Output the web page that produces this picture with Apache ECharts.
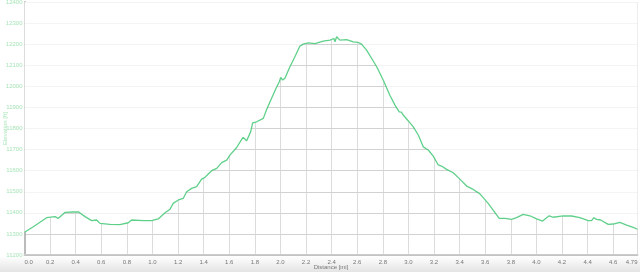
<!DOCTYPE html>
<html>
<head>
<meta charset="utf-8">
<script src="https://cdn.jsdelivr.net/npm/echarts@6/dist/echarts.min.js"></script>
<style>
html,body{margin:0;padding:0;background:#fff;}
#chart{width:640px;height:272px;}
</style>
</head>
<body>
<div id="chart"></div>
<script>
// Distance along the route (miles)
const distance = [
  0.0, 0.069, 0.121, 0.173, 0.238, 0.264, 0.316, 0.381, 0.420, 0.473,
  0.525, 0.564, 0.590, 0.668, 0.746, 0.811, 0.837, 0.928, 0.994, 1.045,
  1.098, 1.137, 1.162, 1.202, 1.241, 1.267, 1.306, 1.345, 1.384, 1.410,
  1.436, 1.463, 1.502, 1.541, 1.580, 1.605, 1.658, 1.697, 1.709, 1.736,
  1.767, 1.783, 1.814, 1.866, 1.892, 1.931, 1.965, 1.991, 2.002, 2.017,
  2.035, 2.074, 2.113, 2.152, 2.178, 2.217, 2.270, 2.334, 2.387, 2.418,
  2.426, 2.439, 2.465, 2.517, 2.569, 2.608, 2.634, 2.673, 2.713, 2.752,
  2.803, 2.855, 2.895, 2.928, 2.945, 2.959, 2.998, 3.038, 3.077, 3.116,
  3.155, 3.194, 3.233, 3.259, 3.298, 3.350, 3.402, 3.455, 3.506, 3.559,
  3.623, 3.662, 3.709, 3.754, 3.806, 3.845, 3.897, 3.949, 4.002, 4.048,
  4.100, 4.131, 4.209, 4.275, 4.340, 4.405, 4.431, 4.449, 4.470, 4.502,
  4.561, 4.600, 4.652, 4.705, 4.756, 4.79
];
// Elevation (feet)
const elevation = [
  11308, 11334, 11355, 11377, 11382, 11374, 11402, 11404, 11405, 11382,
  11363, 11366, 11350, 11345, 11344, 11353, 11366, 11363, 11363, 11371,
  11400, 11417, 11445, 11461, 11469, 11500, 11516, 11524, 11560, 11568,
  11584, 11600, 11611, 11638, 11650, 11674, 11710, 11748, 11758, 11742,
  11784, 11827, 11832, 11848, 11890, 11943, 11990, 12022, 12042, 12030,
  12038, 12093, 12140, 12191, 12200, 12206, 12203, 12214, 12219, 12227,
  12211, 12235, 12219, 12222, 12211, 12208, 12200, 12172, 12132, 12093,
  12030, 11958, 11911, 11879, 11878, 11864, 11837, 11808, 11769, 11713,
  11698, 11669, 11627, 11622, 11606, 11590, 11560, 11527, 11511, 11490,
  11445, 11413, 11374, 11374, 11369, 11377, 11393, 11386, 11371, 11361,
  11386, 11379, 11386, 11385, 11377, 11363, 11363, 11377, 11369, 11366,
  11345, 11347, 11355, 11342, 11331, 11322
];
const xMin = 0, xMax = 4.79, xStep = 0.2;
const yMin = 11200, yMax = 12400, yStep = 100;

const points = distance.map((d, i) => [d, elevation[i]]);
const font = 'Liberation Sans';

const chart = echarts.init(document.getElementById('chart'), null, {renderer: 'canvas'});
chart.setOption({
  animation: false,
  backgroundColor: '#fff',
  graphic: [{
    type: 'rect', z: -10, silent: true,
    shape: {x: 0, y: 256, width: 640, height: 16},
    style: {fill: new echarts.graphic.LinearGradient(0, 0, 0, 1, [
      {offset: 0, color: '#ffffff'}, {offset: 1, color: '#e4e4e4'}
    ])}
  }],
  grid: {left: 24.5, right: 2.5, top: 2, bottom: 17, containLabel: false, outerBoundsMode: 'none'},
  xAxis: {
    type: 'value', min: xMin, max: xMax, interval: xStep,
    name: 'Distance [mi]', nameLocation: 'middle', nameGap: 9, nameMoveOverlap: false,
    nameTextStyle: {color: '#777', fontSize: 6, fontFamily: font},
    axisLine: {show: true, lineStyle: {color: '#cccccc', width: 2}},
    axisTick: {show: false},
    axisLabel: {
      color: '#777', fontSize: 6, fontFamily: font, margin: 4,
      showMaxLabel: true, showMinLabel: true,
      alignMinLabel: 'left', alignMaxLabel: 'right',
      formatter: v => (Math.abs(v - xMax) < 1e-9 ? String(xMax) : v.toFixed(1))
    },
    splitLine: {show: true, lineStyle: {color: '#dcdcdc', width: 1}}
  },
  yAxis: [{
    type: 'value', min: yMin, max: yMax, interval: yStep,
    name: 'Elevation [ft]', nameLocation: 'middle', nameGap: 16, nameRotate: 90,
    nameMoveOverlap: false,
    nameTextStyle: {color: '#a8e4b8', fontSize: 6, fontFamily: font},
    axisLine: {show: true, lineStyle: {color: '#bbbbbb', width: 2}},
    axisTick: {show: false},
    axisLabel: {color: '#a8e4b8', fontSize: 6, fontFamily: font, margin: 2,
      formatter: v => String(Math.round(v))},
    splitLine: {show: true, lineStyle: {color: '#dcdcdc', width: 1}}
  }, {
    type: 'value', min: yMin, max: yMax, interval: yStep, z: 5,
    axisLine: {show: false}, axisTick: {show: false}, axisLabel: {show: false},
    splitLine: {show: true, lineStyle: {color: 'rgba(0,0,0,0.045)', width: 1}}
  }],
  series: [{
    type: 'line', data: points, showSymbol: false, smooth: false,
    lineStyle: {color: '#5fd08a', width: 1.3},
    areaStyle: {origin: 'end', color: '#ffffff', opacity: 1},
    z: 2
  }]
});
</script>
</body>
</html>
